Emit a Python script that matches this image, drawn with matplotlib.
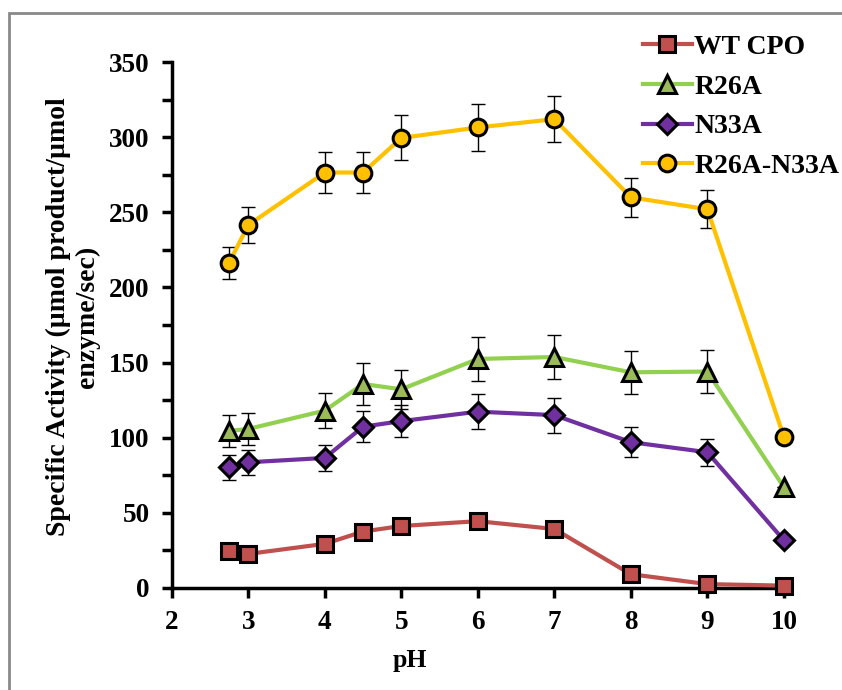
import matplotlib
matplotlib.use("Agg")
import matplotlib.pyplot as plt
from matplotlib.ticker import MultipleLocator
from matplotlib.patches import Rectangle

plt.rcParams['font.family'] = ['Liberation Serif', 'DejaVu Serif']
plt.rcParams['font.weight'] = 'bold'

ph = [2.75, 3, 4, 4.5, 5, 6, 7, 8, 9, 10]

wt_cpo = [24.8, 22.6, 29.3, 37.5, 41.2, 44.4, 39.2, 9.1, 2.5, 1.5]
r26a = [104.5, 105.8, 118, 135.7, 132.2, 152.4, 153.7, 143.5, 144, 67]
n33a = [80.3, 83.6, 86.5, 107.3, 111, 117.3, 115, 97, 90.3, 31.7]
r26a_n33a = [216.5, 241.5, 276.5, 276.5, 299.5, 306.5, 312, 260, 252, 100.5]

r26a_err = [10.6, 10.6, 11.7, 14, 13, 14.4, 14.6, 14.3, 14.5, 0]
n33a_err = [8.2, 8.2, 8.9, 10.5, 10.6, 11.5, 11.6, 9.9, 9.0, 0]
r26a_n33a_err = [10.6, 12.2, 13.7, 13.7, 15, 15.5, 15.3, 13, 12.6, 0]

series = [
    ("WT CPO", wt_cpo, None, '#C0504D', '#C0504D', 's', 11),
    ("R26A", r26a, r26a_err, '#92D050', '#9BBB59', '^', 12.5),
    ("N33A", n33a, n33a_err, '#7030A0', '#7030A0', 'D', 10.5),
    ("R26A-N33A", r26a_n33a, r26a_n33a_err, '#FFC000', '#FFC000', 'o', 12),
]

fig = plt.figure(figsize=(8.42, 6.90), dpi=100)
ax = fig.add_axes([0.204, 0.148, 0.727, 0.762])

for name, vals, err, lc, fc, mk, ms in series:
    if err is not None:
        ax.errorbar(ph, vals, yerr=err, fmt='none', ecolor='black',
                    elinewidth=1.0, capsize=5, capthick=1.0, zorder=2)
    ax.plot(ph, vals, color=lc, lw=3, marker=mk, markersize=ms,
            markerfacecolor=fc, markeredgecolor='black', markeredgewidth=2.2,
            label=name, zorder=3, clip_on=False)

ax.set_xlim(2, 10)
ax.set_ylim(0, 350)
ax.xaxis.set_major_locator(MultipleLocator(1))
ax.yaxis.set_major_locator(MultipleLocator(50))
ax.yaxis.set_minor_locator(MultipleLocator(25))

for s in ['top', 'right']:
    ax.spines[s].set_visible(False)
for s in ['left', 'bottom']:
    ax.spines[s].set_linewidth(2.5)
    ax.spines[s].set_color('black')

ax.tick_params(axis='both', which='major', direction='out', length=7, width=2.5,
               labelsize=19.5, pad=9)
ax.tick_params(axis='y', which='minor', direction='out', length=7, width=2.5)
for lab in ax.get_xticklabels() + ax.get_yticklabels():
    lab.set_fontweight('bold')

ax.set_xlabel('pH', fontsize=18.5, fontweight='bold')
ax.xaxis.set_label_coords(0.389, -0.117)
ax.set_ylabel('Specific Activity (µmol product/µmol\nenzyme/sec)', fontsize=20,
              fontweight='bold', linespacing=1.2)
ax.yaxis.set_label_coords(-0.117, 0.515)

leg = fig.legend(loc='upper left', bbox_to_anchor=(0.750, 0.966), frameon=False,
                 fontsize=20, handlelength=1.76, handletextpad=0.1,
                 labelspacing=0.51, borderaxespad=0)
for t in leg.get_texts():
    t.set_fontweight('bold')

fig.patches.append(Rectangle((8.5 / 842, -0.1), 1.2, 1 - 13.5 / 690 + 0.1,
                             transform=fig.transFigure, fill=False,
                             edgecolor='#898989', linewidth=2, zorder=0))

fig.savefig('out.png', dpi=100)
